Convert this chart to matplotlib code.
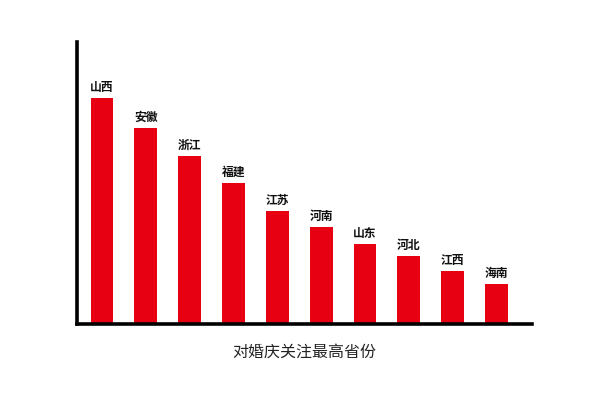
import matplotlib
matplotlib.use("Agg")
import matplotlib.pyplot as plt

provinces = ["山西", "安徽", "浙江", "福建", "江苏", "河南", "山东", "河北", "江西", "海南"]
values = [226, 196, 168, 141, 113, 97, 80, 68, 53, 40]
xlabel = "对婚庆关注最高省份"

plt.rcParams['font.family'] = ['Noto Sans CJK SC', 'DejaVu Sans']

W, H = 613, 408
fig = plt.figure(figsize=(W / 100, H / 100), dpi=100)
left, right, top, bottom = 77, 532, 42, 324
ax = fig.add_axes([left / W, (H - bottom) / H, (right - left) / W, (bottom - top) / H])

x = list(range(len(provinces)))
ax.bar(x, values, width=0.52, color="#e60012")
for xi, v, name in zip(x, values, provinces):
    ax.annotate(name, (xi, v), xytext=(0, 3), textcoords="offset points",
                ha="center", va="bottom", fontsize=8.5, fontweight="bold", color="#111111")

ax.set_xlim(-0.57, 9.81)
ax.set_ylim(0, bottom - top)
for s in ["top", "right"]:
    ax.spines[s].set_visible(False)
for s in ["left", "bottom"]:
    ax.spines[s].set_linewidth(2.6)
    ax.spines[s].set_color("black")
ax.set_xticks([])
ax.set_yticks([])
ax.set_xlabel(xlabel, fontsize=11.5, color="#222222", labelpad=14)

fig.savefig("out.png", dpi=100)
